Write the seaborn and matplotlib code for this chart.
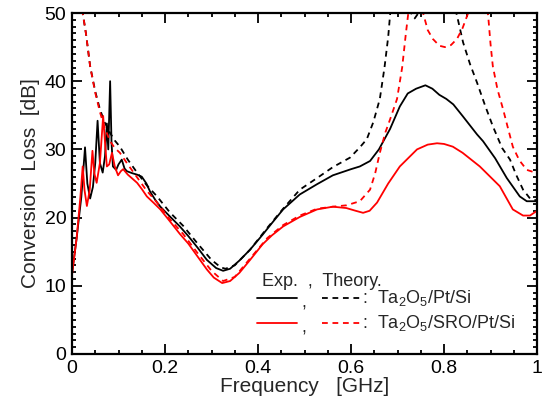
import numpy as np
import pandas as pd
import matplotlib
matplotlib.use("Agg")
import matplotlib.pyplot as plt
from matplotlib.lines import Line2D
from matplotlib.ticker import MultipleLocator
import seaborn as sns

# Exp. Ta2O5/Pt/Si (black solid)
exp_pt_freq = [0.0, 0.01, 0.02, 0.028, 0.033, 0.039, 0.045, 0.05, 0.055, 0.06, 0.066, 0.071,
               0.075, 0.078, 0.082, 0.085, 0.088, 0.095, 0.1, 0.107, 0.113, 0.118, 0.13, 0.14,
               0.15, 0.16, 0.168, 0.18, 0.19, 0.21, 0.232, 0.25, 0.27, 0.29, 0.31, 0.325, 0.34,
               0.36, 0.383, 0.41, 0.43, 0.454, 0.49, 0.527, 0.561, 0.6, 0.619, 0.641, 0.66, 0.684,
               0.705, 0.722, 0.74, 0.76, 0.775, 0.79, 0.805, 0.82, 0.84, 0.871, 0.884, 0.91,
               0.935, 0.963, 0.978, 1.0]
exp_pt_loss = [11.8, 17, 23, 30.3, 25, 22.8, 24.5, 28, 34.2, 28, 26.6, 29,
               33.8, 30, 40, 31, 27.5, 27, 27.8, 28.5, 27.2, 26.8, 26.5, 26.3,
               26, 25, 23.8, 22.5, 21.6, 20.2, 18.7, 17.3, 15.6, 13.8, 12.6, 12.2, 12.5,
               13.7, 15.3, 17.5, 19.2, 21.2, 23.4, 24.9, 26.2, 27.1, 27.5, 28.3, 30, 33,
               36.3, 38.2, 38.9, 39.4, 38.9, 38, 37.4, 36.6, 34.9, 32.2, 31.2, 28.7,
               25.8, 23.1, 22.4, 22.4]

# Theory Ta2O5/Pt/Si (black dashed)
th_pt_freq = [0.015, 0.023, 0.03, 0.039, 0.05, 0.06, 0.07, 0.082, 0.092, 0.103, 0.12, 0.14,
              0.16, 0.183, 0.21, 0.239, 0.27, 0.3, 0.32, 0.33, 0.35, 0.383, 0.42, 0.454, 0.49,
              0.527, 0.561, 0.598, 0.619, 0.634, 0.648, 0.662, 0.672, 0.68, 0.685, 0.695, 0.715,
              0.727, 0.737, 0.747, 0.76, 0.79, 0.815, 0.828, 0.841, 0.856, 0.871, 0.888, 0.905,
              0.925, 0.942, 0.955, 0.97, 0.985, 1.0]
th_pt_loss = [52, 50, 47, 42.2, 38.5, 35.9, 34, 32.4, 31.3, 30.4, 28.5, 26.6,
              24.8, 23.1, 20.8, 18.8, 16.2, 13.8, 12.7, 12.5, 13, 15.3, 18.5, 21.3, 24.1,
              25.8, 27.4, 28.8, 30.3, 31.5, 34, 37.4, 42, 46.5, 50.5, 55, 53,
              50.2, 49.2, 50.2, 53, 56, 53, 49.6, 45.7, 42.5, 39.8, 36.5, 33.4,
              30.2, 28.5, 26.3, 24.1, 22.8, 22.5]

# Exp. Ta2O5/SRO/Pt/Si (red solid)
exp_sro_freq = [0.0, 0.01, 0.018, 0.023, 0.027, 0.032, 0.038, 0.044, 0.048, 0.053, 0.06, 0.067,
                0.071, 0.075, 0.08, 0.086, 0.092, 0.099, 0.105, 0.11, 0.12, 0.13, 0.14, 0.15,
                0.161, 0.175, 0.19, 0.21, 0.232, 0.25, 0.27, 0.29, 0.305, 0.323, 0.34, 0.36,
                0.383, 0.41, 0.43, 0.454, 0.49, 0.527, 0.561, 0.59, 0.61, 0.626, 0.64, 0.656,
                0.68, 0.705, 0.742, 0.765, 0.785, 0.8, 0.819, 0.84, 0.877, 0.92, 0.948, 0.97,
                0.985, 1.0]
exp_sro_loss = [11.6, 17, 23, 27.5, 24, 21.7, 24, 29.8, 26.5, 25.1, 28, 34.9,
                31, 27.5, 27.8, 29.5, 27.5, 26.2, 26.8, 27.1, 26.3, 25.7, 25.1, 24.2,
                23.1, 22.2, 21.2, 19.5, 17.6, 16.2, 14.3, 12.4, 11.2, 10.4, 10.7, 11.9,
                13.8, 16.1, 17.4, 18.7, 20.1, 21.2, 21.6, 21.4, 21, 20.7, 21, 22.2,
                25, 27.5, 30, 30.7, 30.9, 30.8, 30.4, 29.5, 27.5, 24.6, 21.2, 20.3,
                20.3, 21]

# Theory Ta2O5/SRO/Pt/Si (red dashed)
th_sro_freq = [0.015, 0.023, 0.03, 0.039, 0.05, 0.06, 0.07, 0.082, 0.092, 0.103, 0.12, 0.14,
               0.16, 0.183, 0.21, 0.239, 0.27, 0.3, 0.325, 0.35, 0.383, 0.42, 0.454, 0.49,
               0.527, 0.561, 0.59, 0.619, 0.641, 0.652, 0.662, 0.674, 0.684, 0.699, 0.71, 0.718,
               0.725, 0.735, 0.75, 0.755, 0.765, 0.776, 0.79, 0.802, 0.815, 0.828, 0.84, 0.852,
               0.86, 0.875, 0.89, 0.895, 0.9, 0.905, 0.915, 0.927, 0.938, 0.948, 0.962, 0.978,
               0.996]
th_sro_loss = [52, 50, 47, 42.2, 38.3, 35.5, 33.2, 31.2, 30.2, 29.5, 27.8, 25.9,
               24, 22.2, 19.8, 17.6, 14.8, 12.2, 10.7, 11.3, 14, 17, 18.9, 20.3,
               21.3, 21.6, 21.8, 22.4, 24.1, 26.5, 29.5, 32.5, 34.4, 37.4, 42, 47,
               51, 55, 52, 50, 47.5, 46.2, 45.2, 45, 45.3, 46.2, 47.8, 50,
               53, 56, 52, 49.6, 45.5, 42.2, 38.8, 35.9, 33, 30.4, 28.4, 27,
               26.6]

x_ticks = [0, 0.2, 0.4, 0.6, 0.8, 1]
x_tick_labels = ["0", "0.2", "0.4", "0.6", "0.8", "1"]
y_ticks = [0, 10, 20, 30, 40, 50]

sns.set_style("ticks")
plt.rcParams["font.family"] = ["Liberation Sans", "DejaVu Sans"]
plt.rcParams["mathtext.fontset"] = "custom"
plt.rcParams["mathtext.rm"] = "Liberation Sans"
plt.rcParams["mathtext.it"] = "Liberation Sans:italic"

fig = plt.figure(figsize=(5.45, 4.12), dpi=100)
ax = fig.add_axes([72 / 545, 1 - 354 / 412, 465 / 545, 341 / 412])

dash = (0, (3.2, 2.6))
lw = 1.3
series = [
    (exp_pt_freq, exp_pt_loss, "black", "-"),
    (th_pt_freq, th_pt_loss, "black", dash),
    (exp_sro_freq, exp_sro_loss, "red", "-"),
    (th_sro_freq, th_sro_loss, "red", dash),
]
for f, l, c, ls in series:
    df = pd.DataFrame({"freq": f, "loss": l})
    sns.lineplot(data=df, x="freq", y="loss", ax=ax, color=c, linestyle=ls,
                 linewidth=lw, estimator=None, sort=False)

ax.set_xlim(0, 1)
ax.set_ylim(0, 50)
ax.set_xticks(x_ticks)
ax.set_xticklabels(x_tick_labels)
ax.set_yticks(y_ticks)
ax.xaxis.set_minor_locator(MultipleLocator(0.05))
ax.yaxis.set_minor_locator(MultipleLocator(1))
ax.tick_params(which="both", direction="in", top=True, right=True, width=1.3,
               labelsize=14, colors="black")
ax.tick_params(which="major", length=7, pad=4)
ax.tick_params(which="minor", length=3)
for s in ax.spines.values():
    s.set_linewidth(1.6)
    s.set_color("black")

ax.set_xlabel("Frequency   [GHz]", fontsize=15, labelpad=0)
ax.set_ylabel("Conversion  Loss  [dB]", fontsize=15, labelpad=3)

# legend drawn by hand
tr = ax.transAxes
fs = 13
ax.text(0.409, 0.214, "Exp.  ,  Theory.", transform=tr, fontsize=fs, va="center", ha="left")
rows = [("black", 0.165, r":  Ta$_2$O$_5$/Pt/Si"), ("red", 0.091, r":  Ta$_2$O$_5$/SRO/Pt/Si")]
for c, yy, lab in rows:
    ax.add_line(Line2D([0.398, 0.484], [yy, yy], transform=tr, color=c, lw=lw))
    ax.text(0.494, yy - 0.014, ",", transform=tr, fontsize=fs, va="center", ha="left")
    ax.add_line(Line2D([0.538, 0.619], [yy, yy], transform=tr, color=c, lw=lw, linestyle=dash))
    ax.text(0.624, yy, lab, transform=tr, fontsize=fs, va="center", ha="left")

fig.savefig("out.png", dpi=100)
